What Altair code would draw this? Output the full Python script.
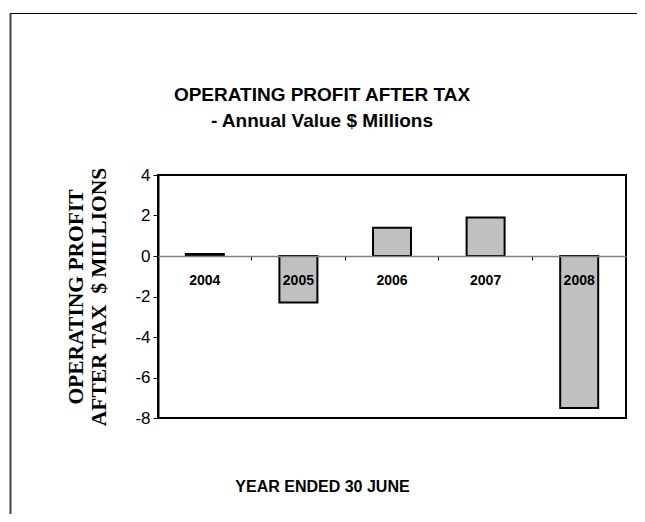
import altair as alt
import pandas as pd

years = ["2004", "2005", "2006", "2007", "2008"]
profit = [0.1, -2.3, 1.4, 1.9, -7.5]
y_ticks = [4, 2, 0, -2, -4, -6, -8]
title_lines = ["OPERATING PROFIT AFTER TAX", "- Annual Value $ Millions"]

df = pd.DataFrame({"year": years, "profit": profit})

W, H = 468, 243
PAD_L, PAD_T = 150, 167

frame = alt.Chart(pd.DataFrame({"k": [0]})).mark_rule(
    color="#000000", strokeWidth=1, clip=False
).encode(
    x=alt.value(-148), x2=alt.value(W + 60), y=alt.value(-161.5),
)

frame_left = alt.Chart(pd.DataFrame({"k": [0]})).mark_rule(
    color="#444444", strokeWidth=2, clip=False
).encode(
    x=alt.value(-147.5), y=alt.value(-161.5), y2=alt.value(H + 200),
)

title1 = alt.Chart(pd.DataFrame({"t": [title_lines[0]]})).mark_text(
    font="Liberation Sans", fontSize=19, fontWeight="bold", color="#000000",
    align="center", baseline="middle", clip=False
).encode(text="t:N", x=alt.value(164), y=alt.value(-80))

title2 = alt.Chart(pd.DataFrame({"t": [title_lines[1]]})).mark_text(
    font="Liberation Sans", fontSize=19, fontWeight="bold", color="#000000",
    align="center", baseline="middle", clip=False
).encode(text="t:N", x=alt.value(164), y=alt.value(-54))

bars = alt.Chart(df).mark_bar(
    fill="#C0C0C0", stroke="#000000", strokeWidth=2, size=38
).encode(
    x=alt.X("year:N", sort=years,
            scale=alt.Scale(paddingInner=0, paddingOuter=0),
            axis=alt.Axis(
                title="YEAR ENDED 30 JUNE", orient="bottom", offset=-(H * 8 / 12),
                labelAngle=0, labelFont="Liberation Sans", labelFontWeight="bold",
                labelFontSize=14, labelColor="#000000", labelPadding=13,
                domainColor="#808080", domainWidth=1.5,
                tickColor="#000000", tickSize=4, tickWidth=1, bandPosition=0,
                titleFont="Liberation Sans", titleFontWeight="bold", titleFontSize=16,
                titleColor="#000000", titleX=164, titleY=222, titleAnchor="middle",
                zindex=1,
            )),
    y=alt.Y("profit:Q", scale=alt.Scale(domain=[-8, 4], nice=False, zero=False),
            axis=alt.Axis(
                values=y_ticks,
                title=["OPERATING PROFIT", "AFTER TAX \u00a0$ MILLIONS"],
                labelExpr="'' + datum.value",
                labelFont="Liberation Sans", labelFontSize=17, labelColor="#000000",
                labelPadding=3, tickColor="#000000", tickSize=5, tickWidth=1,
                domainColor="#000000", domainWidth=2, grid=False,
                titleFont="Liberation Serif", titleFontWeight="bold", titleFontSize=21.5,
                titleColor="#000000", titlePadding=24, titleLineHeight=23,
            )),
)

chart = alt.layer(frame, frame_left, title1, title2, bars).properties(
    width=W, height=H,
    background="#ffffff",
    autosize=alt.AutoSizeParams(type="none"),
    padding={"left": PAD_L, "top": PAD_T, "right": 11, "bottom": 96},
).configure_view(
    stroke="#000000", strokeWidth=2
)

chart.save("out.html", embed_options={"renderer": "svg", "actions": False})
